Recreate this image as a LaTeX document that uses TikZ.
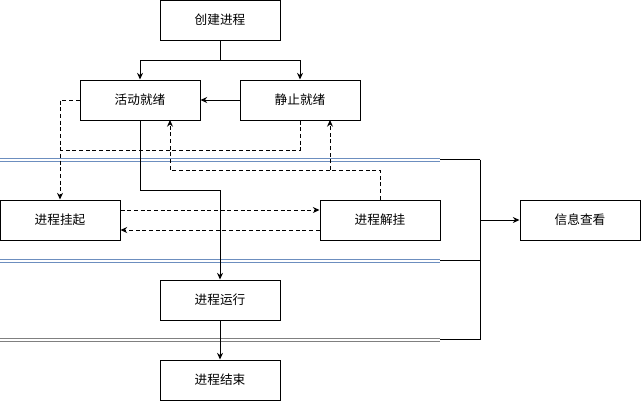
\documentclass[tikz,border=0pt]{standalone}
\usepackage{fontspec}
\setmainfont{Noto Sans CJK SC}
\usetikzlibrary{arrows.meta}
\definecolor{lb}{HTML}{6C8EBF}
\begin{document}
\begin{tikzpicture}[x=0.75pt,y=-0.75pt,
  box/.style={draw,line width=0.75pt,minimum width=90pt,minimum height=30pt,inner sep=0pt,font=\fontsize{9.5}{11}\selectfont},
  arr/.style={-{Stealth[length=5pt,width=4.5pt]},line width=0.75pt},
  dsh/.style={arr,dashed,dash pattern=on 3pt off 2pt},
  dl/.style={draw=#1,line width=0.75pt}]
\useasboundingbox (0,0) rectangle (641,401);
\node[box] (create) at (220,20) {创建进程};
\node[box] (active) at (140,100) {活动就绪};
\node[box] (still) at (300,100) {静止就绪};
\node[box] (susp) at (60,220) {进程挂起};
\node[box] (unsusp) at (380,220) {进程解挂};
\node[box] (info) at (580,220) {信息查看};
\node[box] (run) at (220,300) {进程运行};
\node[box] (end) at (220,380) {进程结束};
% double lines
\foreach \y/\c in {159.5/lb,260.5/lb,339.5/gray}{
  \draw[dl=\c] (0,\y-1.5) -- (440,\y-1.5);
  \draw[dl=\c] (0,\y+1.5) -- (440,\y+1.5);
  \draw[line width=0.75pt] (440,\y) -- (480,\y);
}
\coordinate (j) at (480,220);
\draw[line width=0.75pt] (480,159.5) -- (480,339.5);
\draw[arr] (j) -- (info);
\draw[arr] (create.south) -- ++(0,20) -| (active.north);
\draw[arr] (create.south) -- ++(0,20) -| (still.north);
\draw[arr] (still) -- (active);
\draw[dsh] (active.west) -| (susp.north);
\draw[dash pattern=on 3pt off 2pt,line width=0.75pt] (still.south) |- (60,150);
\draw[arr] (active.south) |- (220,190) -- (run.north);
\draw[dsh] (unsusp.north) |- (170,170) -- (170,120);
\draw[dsh] (330,170) -- (330,120);
\draw[dsh] (susp.east|-0,210) -- (unsusp.west|-0,210);
\draw[dsh] (unsusp.west|-0,230) -- (susp.east|-0,230);
\draw[arr] (run) -- (end);
\end{tikzpicture}
\end{document}
